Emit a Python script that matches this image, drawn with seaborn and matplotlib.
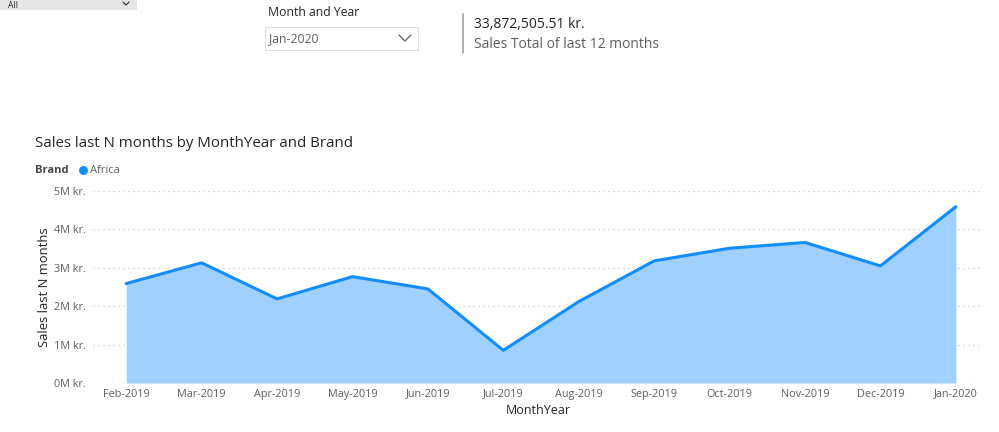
import matplotlib
matplotlib.use("Agg")
import matplotlib.pyplot as plt
import seaborn as sns
import pandas as pd
from matplotlib.patches import Rectangle
from matplotlib.lines import Line2D

months = ["Feb-2019", "Mar-2019", "Apr-2019", "May-2019", "Jun-2019", "Jul-2019",
          "Aug-2019", "Sep-2019", "Oct-2019", "Nov-2019", "Dec-2019", "Jan-2020"]
sales = [2.59e6, 3.13e6, 2.19e6, 2.77e6, 2.45e6, 0.85e6,
         2.12e6, 3.18e6, 3.51e6, 3.66e6, 3.05e6, 4.59e6]
y_ticks = [0, 1e6, 2e6, 3e6, 4e6, 5e6]
y_tick_labels = ["0M kr.", "1M kr.", "2M kr.", "3M kr.", "4M kr.", "5M kr."]
brand = "Africa"
total_text = "33,872,505.51 kr."
total_label = "Sales Total of last 12 months"
slicer_title = "Month and Year"
slicer_value = "Jan-2020"
top_slicer_value = "All"

df = pd.DataFrame({"MonthYear": months, "Sales": sales, "Brand": brand})

sns.set_theme(style="white")
plt.rcParams["font.family"] = ["Open Sans", "DejaVu Sans"]

W, H = 999, 432
fig = plt.figure(figsize=(W / 100, H / 100), dpi=100)
fig.patch.set_facecolor("white")

def fx(px):
    return px / W

def fy(py):
    return 1 - py / H

ax = fig.add_axes([fx(93), fy(383), fx(983) - fx(93), fy(191) - fy(383)])
line_col = "#118DFF"
fill_col = "#9FD0FF"

x_pos = list(range(len(months)))
ax.fill_between(x_pos, df["Sales"], 0, color=fill_col, linewidth=0, zorder=2)
sns.lineplot(data=df, x="MonthYear", y="Sales", ax=ax, color=line_col,
             linewidth=2.2, sort=False, zorder=3, legend=False)

ax.set_xlim(-0.44, 11.36)
ax.set_ylim(0, 5e6)
ax.set_yticks(y_ticks)
ax.set_yticklabels(y_tick_labels)
ax.set_xticks(x_pos)
ax.set_xticklabels(months)
for s in ax.spines.values():
    s.set_visible(False)
ax.grid(False)
for t in y_ticks:
    ax.axhline(t, color="#C8C6C4", linestyle=(0, (1, 3)), linewidth=0.9, zorder=1)
ax.tick_params(axis="both", length=0, labelsize=7.8, colors="#605E5C")
ax.tick_params(axis="x", pad=4)
ax.tick_params(axis="y", pad=5)
ax.set_xlabel("MonthYear", fontsize=9.0, color="#252423", labelpad=3.5)
ax.set_ylabel("Sales last N months", fontsize=9.4, color="#252423", labelpad=2)

# Title and legend
fig.text(fx(35), fy(143), "Sales last N months by MonthYear and Brand", fontsize=10.8,
         color="#252423", va="center", ha="left")
fig.text(fx(35), fy(170), "Brand", fontsize=8.0, fontweight="bold", color="#484644",
         va="center", ha="left")
fig.add_artist(Line2D([fx(83)], [fy(170)], marker="o", markersize=5.4,
                      color=line_col, linestyle="none", transform=fig.transFigure))
fig.text(fx(90), fy(170), brand, fontsize=8.0, color="#605E5C", va="center", ha="left")

# Top-left slicer remnant
fig.add_artist(Rectangle((fx(0), fy(10)), fx(137), fy(0) - fy(10), transform=fig.transFigure,
                         facecolor="#E6E6E6", edgecolor="none"))
fig.text(fx(8), fy(0.5), top_slicer_value, fontsize=6.2, color="#252423", va="top", ha="left")
fig.add_artist(Line2D([fx(123), fx(126), fx(129)], [fy(2), fy(5), fy(2)],
                      color="#252423", linewidth=0.8, transform=fig.transFigure))

# Month and Year slicer
fig.text(fx(268), fy(12), slicer_title, fontsize=8.8, color="#252423", va="center", ha="left")
fig.add_artist(Rectangle((fx(265), fy(50)), fx(418) - fx(265), fy(27) - fy(50),
                         transform=fig.transFigure, facecolor="white",
                         edgecolor="#E1DFDD", linewidth=0.8))
fig.text(fx(269), fy(39), slicer_value, fontsize=8.8, color="#605E5C", va="center", ha="left")
fig.add_artist(Line2D([fx(399), fx(405), fx(411)], [fy(35), fy(41), fy(35)],
                      color="#605E5C", linewidth=0.9, transform=fig.transFigure))

# Card
fig.add_artist(Line2D([fx(463), fx(463)], [fy(14), fy(53)], color="#A19F9D",
                      linewidth=1.2, transform=fig.transFigure))
fig.text(fx(474), fy(25), total_text, fontsize=10.0, color="#252423", va="center", ha="left")
fig.text(fx(474), fy(45), total_label, fontsize=10.0, color="#605E5C", va="center", ha="left")

fig.savefig("out.png", dpi=100, facecolor="white")
